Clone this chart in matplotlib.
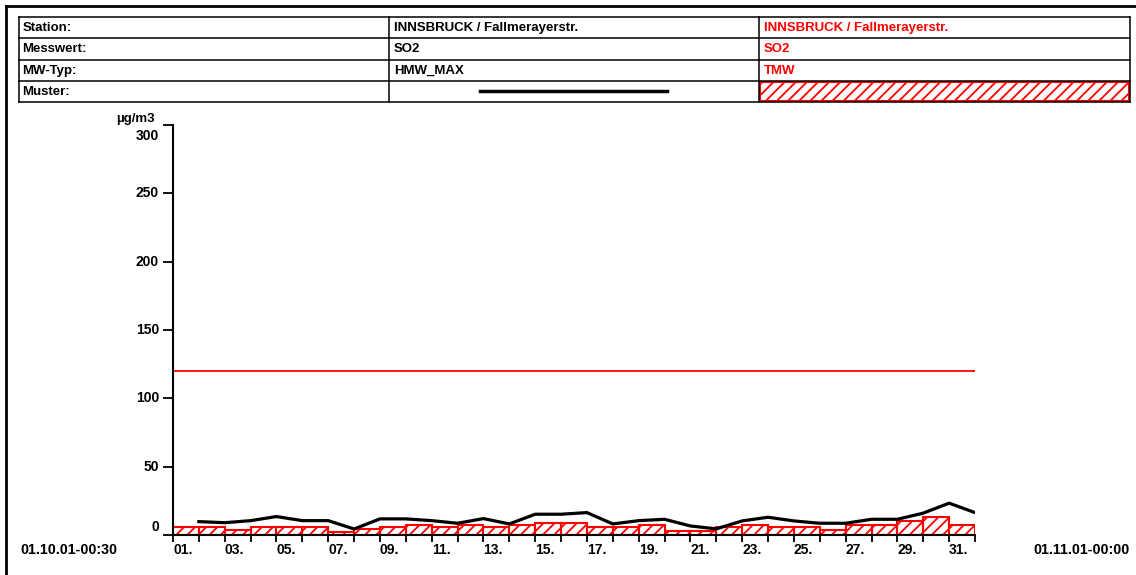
import matplotlib
matplotlib.use("Agg")
import matplotlib.pyplot as plt
from matplotlib.patches import Rectangle

plt.rcParams['font.family'] = ['Liberation Sans', 'DejaVu Sans']
plt.rcParams['font.weight'] = 'bold'
plt.rcParams['hatch.linewidth'] = 1.3
plt.rcParams['hatch.color'] = '#ff0000'

# data
days = list(range(1, 32))
hmw_max = [9.8, 9.0, 10.5, 13.5, 10.5, 10.5, 4.4, 11.8, 11.8, 10.5,
           8.6, 12.0, 8.1, 15.2, 15.2, 16.4, 8.1, 10.5, 11.5, 6.6,
           4.5, 10.3, 13.0, 10.3, 8.6, 8.6, 11.5, 11.5, 16.0, 23.3, 16.4]
tmw = [5.7, 5.7, 3.7, 5.7, 5.7, 5.7, 2.4, 4.2, 5.7, 7.6,
       5.7, 7.6, 5.7, 7.3, 9.0, 9.0, 5.7, 5.7, 7.6, 2.7,
       2.7, 5.7, 7.6, 5.7, 5.7, 3.7, 7.6, 7.6, 10.0, 13.0, 7.6]
limit = 120
yticks = [0, 50, 100, 150, 200, 250, 300]
day_labels = ["%02d." % d for d in days if d % 2 == 1]
start_label = "01.10.01-00:30"
end_label = "01.11.01-00:00"

rows = ["Station:", "Messwert:", "MW-Typ:", "Muster:"]
col_black = ["INNSBRUCK / Fallmerayerstr.", "SO2", "HMW_MAX"]
col_red = ["INNSBRUCK / Fallmerayerstr.", "SO2", "TMW"]

RED = '#ff0000'
W, H = 1136, 575
fig = plt.figure(figsize=(W / 100, H / 100), dpi=100)

# main chart
ax = fig.add_axes([173 / W, 1 - 535 / H, (975 - 173) / W, (535 - 125) / H])
ax.bar([d - 1 for d in days], tmw, width=1, align='edge', fill=False,
       edgecolor=RED, hatch='///', linewidth=1.5, zorder=2)
ax.plot(days, hmw_max, color='black', linewidth=2.3, zorder=3)
ax.hlines(limit, 0, len(days), color=RED, linewidth=1.3, zorder=2)

ax.set_xlim(0, len(days))
ax.set_ylim(0, 300)
for s in ['top', 'right']:
    ax.spines[s].set_visible(False)
ax.spines['left'].set_linewidth(1.5)
ax.spines['bottom'].set_linewidth(1.5)

ax.set_xticks(range(0, len(days) + 1))
ax.set_xticklabels([])
ax.tick_params(axis='x', direction='out', length=5, width=1.3)
ax.set_yticks(yticks)
ax.set_yticklabels([])
ax.tick_params(axis='y', direction='out', length=7, width=1.3)

for v in yticks:
    dy = 6 if v == yticks[0] else (-8 if v == yticks[-1] else 0)
    ax.annotate(str(v), xy=(0, v), xycoords=('axes fraction', 'data'),
                xytext=(-10, dy), textcoords='offset points',
                ha='right', va='center', fontsize=10, fontweight='bold')

for i, lab in enumerate(day_labels):
    ax.annotate(lab, xy=(2 * i, 0), xycoords=('data', 'axes fraction'),
                xytext=(0, -11), textcoords='offset points',
                ha='left', va='center', fontsize=10, fontweight='bold')

# overlay in pixel coordinates for table and frame
ov = fig.add_axes([0, 0, 1, 1])
ov.set_xlim(0, W)
ov.set_ylim(H, 0)
ov.axis('off')
ov.patch.set_visible(False)

ov.plot([5.5, 5.5], [5.5, H], color='black', linewidth=2)
ov.plot([5.5, W], [5.5, 5.5], color='black', linewidth=2)

ov.text(155, 119, "µg/m3", ha='right', va='center', fontsize=9.5)
ov.text(20, 550, start_label, ha='left', va='center', fontsize=10.3)
ov.text(1130, 550, end_label, ha='right', va='center', fontsize=10.3)

x0, x1, x2, x3 = 18.5, 389, 758.5, 1130
ys = [17, 38.2, 59.5, 80.8, 102]
for y in ys:
    ov.plot([x0, x3], [y, y], color='black', linewidth=1.1)
for x in [x0, x1, x2, x3]:
    ov.plot([x, x], [ys[0], ys[-1]], color='black', linewidth=1.1)

for i, r in enumerate(rows):
    yc = (ys[i] + ys[i + 1]) / 2 + 0.5
    ov.text(x0 + 4, yc, r, ha='left', va='center', fontsize=9.5)
    if i < 3:
        ov.text(x1 + 5, yc, col_black[i], ha='left', va='center', fontsize=9.5)
        ov.text(x2 + 5, yc, col_red[i], ha='left', va='center', fontsize=9.5,
                color=RED)

yc = (ys[3] + ys[4]) / 2
ov.plot([480, 667], [yc, yc], color='black', linewidth=2.5)
ov.add_patch(Rectangle((x2 + 1, ys[3] + 1), x3 - x2 - 2, ys[4] - ys[3] - 2,
                       fill=False, edgecolor=RED, hatch='///', linewidth=1.5))

fig.savefig("out.png", dpi=100)
